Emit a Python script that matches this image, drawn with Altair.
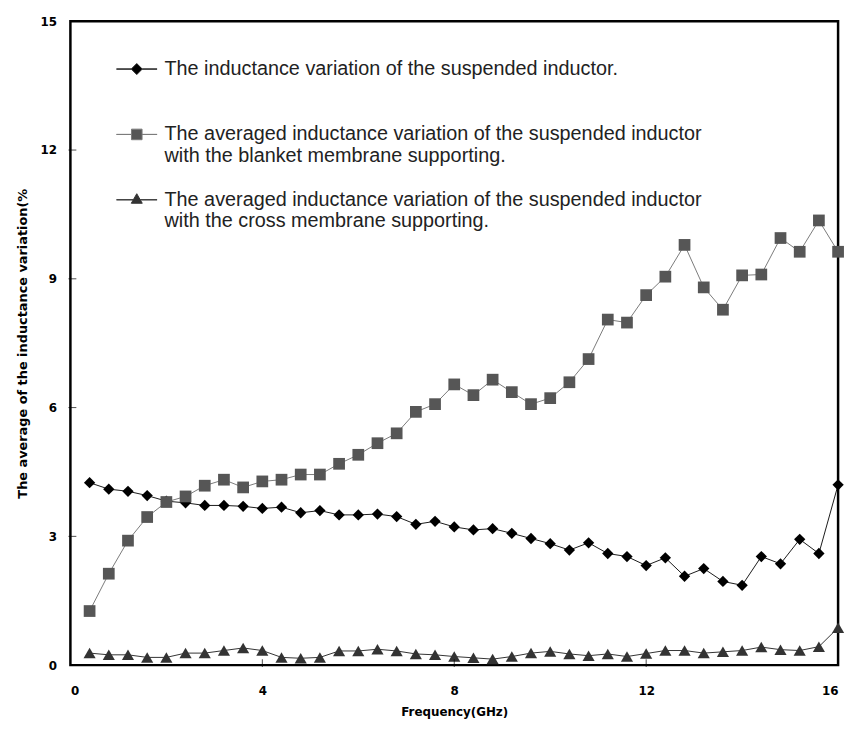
import altair as alt
import pandas as pd

freq = [0.4, 0.8, 1.2, 1.6, 2.0, 2.4, 2.8, 3.2, 3.6, 4.0,
        4.4, 4.8, 5.2, 5.6, 6.0, 6.4, 6.8, 7.2, 7.6, 8.0,
        8.4, 8.8, 9.2, 9.6, 10.0, 10.4, 10.8, 11.2, 11.6, 12.0,
        12.4, 12.8, 13.2, 13.6, 14.0, 14.4, 14.8, 15.2, 15.6, 16.0]

suspended = [4.25, 4.10, 4.05, 3.95, 3.82, 3.78, 3.72, 3.72, 3.70, 3.65,
             3.68, 3.55, 3.60, 3.50, 3.50, 3.52, 3.46, 3.28, 3.35, 3.22,
             3.15, 3.18, 3.07, 2.95, 2.83, 2.68, 2.85, 2.60, 2.53, 2.32,
             2.50, 2.07, 2.25, 1.95, 1.86, 2.53, 2.36, 2.93, 2.60, 4.20]

blanket = [1.26, 2.13, 2.90, 3.45, 3.80, 3.93, 4.18, 4.32, 4.14, 4.28,
           4.32, 4.44, 4.44, 4.69, 4.90, 5.17, 5.40, 5.90, 6.08, 6.54,
           6.29, 6.65, 6.36, 6.08, 6.22, 6.59, 7.13, 8.05, 7.98, 8.62,
           9.05, 9.79, 8.80, 8.28, 9.08, 9.10, 9.95, 9.63, 10.36, 9.63]

cross = [0.28, 0.24, 0.24, 0.18, 0.18, 0.28, 0.28, 0.34, 0.40, 0.34,
         0.18, 0.16, 0.18, 0.33, 0.33, 0.37, 0.33, 0.26, 0.24, 0.20,
         0.17, 0.14, 0.20, 0.28, 0.32, 0.26, 0.22, 0.26, 0.20, 0.27,
         0.34, 0.34, 0.28, 0.31, 0.34, 0.42, 0.36, 0.34, 0.43, 0.87]

names = [
    "The inductance variation of the suspended inductor.|",
    "The averaged inductance variation of the suspended inductor|with the blanket membrane supporting.",
    "The averaged inductance variation of the suspended inductor|with the cross membrane supporting.",
]

x_ticks = [0, 4, 8, 12, 16]
y_ticks = [0, 3, 6, 9, 12, 15]
x_inner_ticks = [4, 8, 12]
y_inner_ticks = [3, 6, 9, 12]

marker_fill = ["#000000", "#565656", "#333333"]
line_color = ["#1a1a1a", "#7a7a7a", "#333333"]
marker_shape = ["diamond", "square", "triangle-up"]
marker_size = [130, 150, 150]
legend_paths = [
    "M-1,0.5L-0.27,0.5L0,0.23L0.27,0.5L1,0.5L0.27,0.5L0,0.77L-0.27,0.5Z",
    "M-1,0.5L-0.26,0.5L-0.26,0.24L0.26,0.24L0.26,0.5L1,0.5L0.26,0.5L0.26,0.76L-0.26,0.76L-0.26,0.5Z",
    "M-1,0.5L-0.17,0.5L0,0.2L0.17,0.5L1,0.5L0.17,0.5L0.27,0.67L-0.27,0.67L-0.17,0.5Z",
]

rows = []
for name, vals in zip(names, [suspended, blanket, cross]):
    for f, v in zip(freq, vals):
        rows.append({"series": name, "freq": f, "value": v})
df = pd.DataFrame(rows)

x_enc = alt.X("freq:Q", scale=alt.Scale(domain=[0, 16], nice=False),
              axis=alt.Axis(values=x_ticks, title="Frequency(GHz)", format="d"))
y_enc = alt.Y("value:Q", scale=alt.Scale(domain=[0, 15], nice=False),
              axis=alt.Axis(values=y_ticks, title="The average of the inductance variation(%", format="d"))

base = alt.Chart(df)

lines = base.mark_line(strokeWidth=1).encode(
    x=x_enc, y=y_enc,
    stroke=alt.Stroke("series:N", scale=alt.Scale(domain=names, range=line_color), legend=None),
)

points = base.mark_point(filled=True, opacity=1).encode(
    x=x_enc, y=y_enc,
    shape=alt.Shape("series:N", scale=alt.Scale(domain=names, range=marker_shape), legend=None),
    fill=alt.Fill("series:N", scale=alt.Scale(domain=names, range=marker_fill), legend=None),
    size=alt.Size("series:N", scale=alt.Scale(domain=names, range=marker_size), legend=None),
)

leg = alt.Legend(
    orient="none", legendX=46, legendY=17, padding=0, title=None,
    symbolSize=1681, symbolStrokeWidth=1,
    labelFont="Liberation Sans", labelFontSize=20, labelColor="#222222",
    labelLimit=1000, labelOffset=7, rowPadding=3, labelBaseline="top",
    labelExpr="split(datum.label, '|')",
)

legend_layer = base.transform_filter("false").mark_point(filled=True, opacity=1, strokeWidth=1).encode(
    x=x_enc, y=y_enc,
    shape=alt.Shape("series:N", scale=alt.Scale(domain=names, range=legend_paths), legend=leg),
    fill=alt.Fill("series:N", scale=alt.Scale(domain=names, range=marker_fill), legend=leg),
    stroke=alt.Stroke("series:N", scale=alt.Scale(domain=names, range=line_color), legend=leg),
)

y_tick_marks = alt.Chart(pd.DataFrame({"value": y_inner_ticks})).mark_tick(
    orient="horizontal", size=8, thickness=1, color="#000000"
).encode(y=y_enc, x=alt.value(2))

x_tick_marks = alt.Chart(pd.DataFrame({"freq": x_inner_ticks})).mark_tick(
    orient="vertical", size=8, thickness=1, color="#000000"
).encode(x=x_enc, y=alt.value(648))

chart = alt.layer(lines, points, legend_layer, y_tick_marks, x_tick_marks).resolve_scale(
    shape="independent", fill="independent", stroke="independent", size="independent"
).properties(
    width=775, height=650,
    autosize=alt.AutoSizeParams(type="none"),
    padding={"left": 63, "top": 10, "right": 9, "bottom": 51},
    background="white",
).configure_view(
    stroke="#000000", strokeWidth=2.5,
).configure_axis(
    grid=False, domain=False, ticks=False,
    labelFont="DejaVu Sans", labelFontWeight="bold", labelFontSize=12, labelColor="#000000",
    titleFont="DejaVu Sans", titleFontWeight="bold", titleFontSize=12, titleColor="#000000",
).configure_axisY(
    labelPadding=14, titlePadding=11, titleFontSize=13,
).configure_axisX(
    labelPadding=21, titlePadding=10,
)

chart.save("out.html", embed_options={"renderer": "svg", "actions": False})
